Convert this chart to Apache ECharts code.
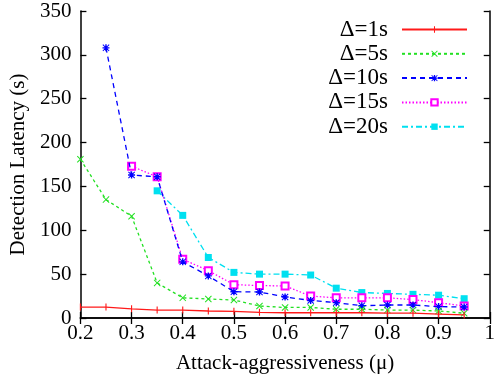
<!DOCTYPE html>
<html><head><meta charset="utf-8">
<script src="https://cdn.jsdelivr.net/npm/echarts@6/dist/echarts.min.js"></script>
<style>html,body{margin:0;padding:0;background:#fff}#c{width:498px;height:379px}</style>
</head><body><div id="c"></div>
<script>
const xValues = [0.2,0.25,0.3,0.35,0.4,0.45,0.5,0.55,0.6,0.65,0.7,0.75,0.8,0.85,0.9,0.95];
const seriesNames = ['Δ=1s','Δ=5s','Δ=10s','Δ=15s','Δ=20s'];
const d1  = [12.5,12.5,10.5,9,9,8,7.6,6.5,6,6,6,6,5.5,5.5,4.5,3.5];
const d5  = [181,135,116,40,23,21.7,20.5,13.7,12,12,10,10,9,9,8,5.4];
const d10 = [null,308,163,161,64,48,30,29.6,24,20,17.5,14,14.8,14.8,13,12.5];
const d15 = [null,null,173,161,67,54,38,37,36.5,25,23,23,23,21,17.5,13.7];
const d20 = [null,null,null,145,117,69,52,50,50,49,34,29,28,27,26,22];
const yTicks = [0,50,100,150,200,250,300,350];
const xTicks = [0.2,0.3,0.4,0.5,0.6,0.7,0.8,0.9,1];

const font = 'Liberation Serif';
const colors = ['#ff1a1a','#22e022','#0000ff','#ff00ff','#00e0f0'];
const symbols = [
  'path://M4.2,0h1.6v10h-1.6z M0,4.99h0.01v0.02h-0.01z M9.99,4.99h0.01v0.02h-0.01z',
  'path://M0,1L1,0L5,4L9,0L10,1L6,5L10,9L9,10L5,6L1,10L0,9L4,5z',
  'path://M0,1L1,0L5,4L9,0L10,1L6,5L10,9L9,10L5,6L1,10L0,9L4,5z M4,0h2v10h-2z M0,4h10v2h-10z',
  'emptyRect',
  'rect'
];
const symSizes = [7,7,7,7,7];
const lineTypes = ['solid',[3,3],[5,4],[1.5,2],[6,3,2,3]];
const allData = [d1,d5,d10,d15,d20];

function pairs(arr){ const out=[]; arr.forEach((v,i)=>{ if(v!==null) out.push([xValues[i],v]); }); return out; }

const chart = echarts.init(document.getElementById('c'), null, {renderer:'canvas'});
const axisCommon = {
  axisLine:{show:true,lineStyle:{color:'#000',width:1.5}},
  axisTick:{show:true,inside:true,length:6,lineStyle:{color:'#000',width:1.3}},
  splitLine:{show:false}
};
chart.setOption({
  animation:false,
  backgroundColor:'#fff',
  grid:{left:79,right:1,top:11,bottom:61,containLabel:false},
  legend:{
    data:seriesNames, right:25, top:13, orient:'vertical', align:'right',
    itemWidth:65, itemHeight:8, itemGap:1.3,
    textStyle:{fontFamily:font,fontSize:23,color:'#000',padding:[0,9,0,0]}
  },
  xAxis:[
    Object.assign({type:'value',min:0.2,max:1,interval:0.1,position:'bottom',
      axisLabel:{fontFamily:font,fontSize:21,color:'#000',margin:5,formatter:v=>String(+v.toFixed(1))},
      name:'Attack-aggressiveness (μ)',nameLocation:'middle',nameGap:35,
      nameTextStyle:{fontFamily:font,fontSize:21,color:'#000'}},axisCommon),
    Object.assign({type:'value',min:0.2,max:1,interval:0.1,position:'top',axisLabel:{show:false}},axisCommon)
  ],
  yAxis:[
    Object.assign({type:'value',min:0,max:350,interval:50,position:'left',
      axisLabel:{fontFamily:font,fontSize:21,color:'#000',margin:9},
      name:'Detection Latency (s)',nameLocation:'middle',nameGap:49,
      nameTextStyle:{fontFamily:font,fontSize:21,color:'#000'}},axisCommon),
    Object.assign({type:'value',min:0,max:350,interval:50,position:'right',axisLabel:{show:false}},axisCommon)
  ],
  series: allData.map((arr,i)=>({
    name:seriesNames[i], type:'line', data:pairs(arr),
    symbol:symbols[i], symbolSize:symSizes[i], showSymbol:true,
    color:colors[i],
    itemStyle:{color:colors[i],borderColor:colors[i],borderWidth: i===3?1.3:0},
    lineStyle:{color:colors[i],width:1.3,type:lineTypes[i]},
    z: 10-i
  }))
});
</script></body></html>
